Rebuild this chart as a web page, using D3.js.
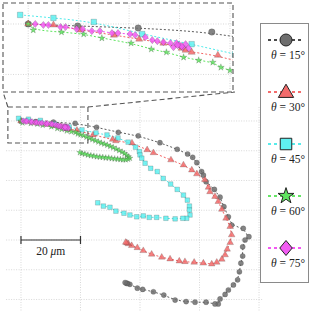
<!DOCTYPE html>
<html>
<head>
<meta charset="utf-8">
<script src="https://cdn.jsdelivr.net/npm/d3@7"></script>
<style>
  body { margin: 0; background: #fff; }
  svg { display: block; }
</style>
</head>
<body>
<script>
var width = 312,
    height = 315;

// trajectoires (µm), origine commune
const x15 = [0, 4.9, 10.9, 18.2, 25.4, 32.7, 39.4, 46.7, 52.5, 56.0, 57.7, 59.1, 60.7, 61.3, 62.2, 65.0, 66.9, 68.2, 69.7, 70.8, 74.7, 76.6, 75.3, 74.5, 74.5, 73.9, 73.4, 72.8, 71.4, 69.7, 68.6, 66.9, 66.3, 65.2, 62.2, 58.5, 55.5, 51.8, 48.0, 44.5, 40.9, 39.1, 36.6, 35.8, 35.5, 35.0];
const y15 = [0, -0.2, -0.4, -0.8, -2.1, -3.8, -5.0, -7.3, -9.5, -11.1, -12.2, -14.0, -17.0, -18.2, -20.4, -23.0, -25.6, -28.8, -32.2, -35.0, -36.1, -38.9, -40.0, -42.3, -45.4, -47.8, -50.7, -53.4, -55.1, -56.8, -58.3, -59.8, -61.5, -61.5, -60.9, -60.9, -60.7, -60.2, -58.5, -57.4, -56.6, -56.2, -54.9, -54.6, -54.6, -54.3];

const x30 = [0, 2.5, 5.2, 8.5, 11.0, 13.4, 15.2, 15.6, 16.2, 18.8, 24.2, 30.8, 31.9, 37.3, 42.4, 44.5, 50.4, 54.6, 57.4, 59.1, 61.8, 63.0, 63.5, 65.2, 66.3, 67.5, 68.9, 70.3, 70.8, 70.3, 69.3, 68.6, 67.5, 65.8, 64.1, 61.3, 58.2, 55.1, 53.2, 50.1, 47.3, 43.9, 41.1, 39.1, 37.2, 36.1, 35.6, 35.2];
const y30 = [0, -0.1, -0.6, -1.1, -1.5, -1.9, -2.4, -2.6, -2.8, -3.1, -4.7, -6.2, -6.7, -7.4, -9.7, -10.7, -13.1, -14.8, -16.5, -17.8, -19.8, -22.3, -23.8, -25.4, -27.1, -29.7, -32.7, -35.5, -38.3, -40.9, -43.1, -45.0, -46.5, -47.5, -48.1, -47.8, -47.5, -47.3, -47.1, -46.4, -45.8, -44.8, -43.6, -42.6, -41.9, -41.3, -41.0, -40.8];

const x45 = [-0.8, 2.5, 6.5, 11.3, 16.2, 20.5, 25.2, 28.9, 32.6, 36.0, 38.5, 39.8, 40.0, 40.6, 41.7, 43.6, 45.8, 47.8, 50.3, 52.5, 54.6, 55.9, 56.6, 56.6, 56.8, 55.7, 54.4, 51.8, 48.7, 45.6, 43.1, 41.1, 38.9, 36.6, 34.6, 31.9, 29.9, 27.7, 25.8];
const y45 = [0.9, 0.6, 0.2, -1.0, -2.0, -3.0, -4.0, -4.7, -5.7, -7.1, -8.8, -10.3, -11.4, -12.5, -14.2, -15.9, -17.0, -19.3, -21.2, -23.0, -24.9, -26.6, -28.6, -29.9, -31.6, -32.7, -32.7, -32.9, -32.7, -32.4, -32.4, -31.9, -32.2, -31.6, -31.0, -30.3, -29.0, -28.6, -27.5];

const x60 = [0, 0.5, 3.3, 5.5, 7.3, 10.2, 12.2, 13.7, 15.4, 16.9, 18.3, 19.1, 20, 21, 22, 23, 24, 25, 26, 27, 28, 29, 30, 31, 32, 33, 34, 34.8, 35.5, 36.1, 36.6, 36.0, 35.2, 34.3, 33.4, 32.5, 31.5, 30.5, 29.5, 28.5, 27.5, 26.5, 25.5, 24.5, 23.5, 22.5, 21.5, 20.5, 19.8];
const y60 = [0, -0.6, -0.8, -1.0, -1.4, -1.9, -2.5, -2.8, -3.3, -3.6, -3.8, -4.3, -4.6, -4.9, -5.4, -5.8, -6.2, -6.6, -7.0, -7.4, -7.7, -8.1, -8.5, -8.9, -9.4, -9.9, -10.4, -10.9, -11.5, -12.0, -12.5, -12.8, -13.0, -13.0, -12.9, -12.8, -12.7, -12.6, -12.4, -12.4, -12.2, -12.1, -12.0, -11.8, -11.6, -11.4, -11.1, -10.9, -10.6];

const x75 = [0.7, 1.5, 2.0, 3.2, 3.7, 4.8, 5.4, 6.3, 7.1, 8.3, 8.9, 10.1, 10.6, 11.6, 12.3, 12.8, 13.4, 14.1, 14.4, 14.7, 15.0, 15.3, 15.6, 15.9, 15.2, 14.8];
const y75 = [0, -0.1, -0.1, -0.3, -0.3, -0.5, -0.5, -0.7, -0.7, -0.9, -0.9, -1.0, -1.1, -1.3, -1.6, -1.7, -1.8, -1.9, -2.3, -1.9, -2.1, -2.3, -2.0, -2.4, -2.2, -2.1];

const angles = ["15", "30", "45", "60", "75"];

// grilles
const xTicks = [0, 20, 40, 60, 80];
const yTicks = [0, -10, -20, -30, -40, -50, -60];
const insetXTicks = [0, 5, 10, 15, 20];
const insetYTicks = [0, -5];

const series = [
  { xs: x15, ys: y15, shape: "circle",   fill: "#6e6e6e", line: "#333" },
  { xs: x30, ys: y30, shape: "triangle", fill: "#f26b6b", line: "#f03c3c" },
  { xs: x45, ys: y45, shape: "square",   fill: "#5ff0f0", line: "#22e5e5" },
  { xs: x60, ys: y60, shape: "star",     fill: "#5fe35f", line: "#33dd33" },
  { xs: x75, ys: y75, shape: "diamond",  fill: "#f25cf2", line: "#ee22ee" }
];

var svg = d3.select("body").append("svg")
    .attr("width", width)
    .attr("height", height);

svg.append("rect").attr("width", width).attr("height", height).attr("fill", "#fff");

// tracé principal
var x = d3.scaleLinear().domain([-5, 81.5]).range([6.1, 263.5]);
var y = d3.scaleLinear().domain([4.7, -64]).range([107, 311.4]);

// encart (zoom)
var xi = d3.scaleLinear().domain([-2.5, 20.3]).range([3, 233]);
var yi = d3.scaleLinear().domain([2.08, -6.74]).range([3, 92]);

function symbolPath(shape, s) {
  // s = taille approx. en pixels
  if (shape === "diamond") {
    var w = s * 0.5, h = s * 0.6;
    return `M0,${-h}L${w},0L0,${h}L${-w},0Z`;
  }
  var types = { circle: d3.symbolCircle, triangle: d3.symbolTriangle, square: d3.symbolSquare, star: d3.symbolStar };
  var area = { circle: 0.785, triangle: 0.45, square: 1, star: 0.33 }[shape] * s * s;
  return d3.symbol().type(types[shape]).size(area)();
}

function drawGrid(g, sx, sy, xs, ys) {
  var gr = g.append("g").attr("stroke", "#bdbdbd").attr("stroke-width", 0.6).attr("stroke-dasharray", "1,1.5");
  gr.selectAll(".gx").data(xs).join("line")
    .attr("x1", d => sx(d)).attr("x2", d => sx(d))
    .attr("y1", sy.range()[0]).attr("y2", sy.range()[1]);
  gr.selectAll(".gy").data(ys).join("line")
    .attr("y1", d => sy(d)).attr("y2", d => sy(d))
    .attr("x1", sx.range()[0]).attr("x2", sx.range()[1]);
}

function drawSeries(g, sx, sy, sizes) {
  series.forEach(function (s, k) {
    var pts = s.xs.map((v, i) => [v, s.ys[i]]);
    var line = d3.line().x(d => sx(d[0])).y(d => sy(d[1])).curve(d3.curveBasis);
    g.append("path")
      .attr("d", line(pts))
      .attr("fill", "none")
      .attr("stroke", s.line)
      .attr("stroke-width", 0.8)
      .attr("stroke-dasharray", "2,2");
  });
  series.forEach(function (s, k) {
    var pts = s.xs.map((v, i) => [v, s.ys[i]]);
    g.selectAll(null).data(pts).join("path")
      .attr("transform", d => `translate(${sx(d[0])},${sy(d[1])})`)
      .attr("d", symbolPath(s.shape, sizes[k]))
      .attr("fill", s.fill)
      .attr("fill-opacity", 0.85)
      .attr("stroke", "#333")
      .attr("stroke-opacity", 0.5)
      .attr("stroke-width", 0.4);
  });
}

// --- principal ---
var gMain = svg.append("g");
drawGrid(gMain, x, y, xTicks, yTicks);
drawSeries(gMain, x, y, [5.2, 6.5, 4.6, 6, 5.5]);

// barre d'échelle 20 µm
var sb = svg.append("g").attr("stroke", "#333").attr("stroke-width", 1.2);
sb.append("line").attr("x1", x(0)).attr("x2", x(20)).attr("y1", y(-40)).attr("y2", y(-40));
[0, 20].forEach(function (v) {
  sb.append("line").attr("x1", x(v)).attr("x2", x(v)).attr("y1", y(-40) - 4).attr("y2", y(-40) + 4);
});
var sbt = svg.append("text")
  .attr("x", x(10)).attr("y", y(-40) + 15)
  .attr("text-anchor", "middle")
  .attr("font-family", "Liberation Serif, serif")
  .attr("font-size", 11.5)
  .attr("fill", "#222");
sbt.append("tspan").text("20 ");
sbt.append("tspan").attr("font-style", "italic").text("μ");
sbt.append("tspan").text("m");

// rectangle de zoom + liens
var zoomX = [-4.4, 22.5], zoomY = [4.7, -7.4];
var dash = { stroke: "#555", "stroke-width": 1.1, "stroke-dasharray": "5,3", fill: "none" };
function styleDash(sel) { for (var k in dash) sel.attr(k, dash[k]); return sel; }

styleDash(svg.append("rect")
  .attr("x", x(zoomX[0])).attr("y", y(zoomY[0]))
  .attr("width", x(zoomX[1]) - x(zoomX[0]))
  .attr("height", y(zoomY[1]) - y(zoomY[0])));
styleDash(svg.append("line")
  .attr("x1", x(zoomX[0])).attr("y1", y(zoomY[0]))
  .attr("x2", xi.range()[0]).attr("y2", yi.range()[1]));
styleDash(svg.append("line")
  .attr("x1", x(zoomX[1])).attr("y1", y(zoomY[0]))
  .attr("x2", xi.range()[1] + 2).attr("y2", yi.range()[1]));

// --- encart ---
svg.append("defs").append("clipPath").attr("id", "clip-inset")
  .append("rect").attr("x", 3).attr("y", 3).attr("width", 230).attr("height", 89);
var gInset = svg.append("g");
gInset.append("rect").attr("x", 3).attr("y", 3).attr("width", 230).attr("height", 89).attr("fill", "#fff");
var gIn = gInset.append("g").attr("clip-path", "url(#clip-inset)");
drawGrid(gIn, xi, yi, insetXTicks, insetYTicks);
drawSeries(gIn, xi, yi, [6.5, 7, 5.5, 6.5, 6]);
styleDash(gInset.append("rect").attr("x", 3).attr("y", 3).attr("width", 230).attr("height", 89));

// --- légende ---
var leg = svg.append("g");
leg.append("rect").attr("x", 260.5).attr("y", 23.5).attr("width", 48).attr("height", 259)
  .attr("fill", "#fff").attr("stroke", "#8a8a8a").attr("stroke-width", 1);
var legSizes = [12, 15, 11.5, 15.5, 12.5];
series.forEach(function (s, i) {
  var cy = 40 + 52 * i;
  leg.append("line")
    .attr("x1", 268).attr("x2", 304).attr("y1", cy).attr("y2", cy)
    .attr("stroke", i === 0 ? "#111" : s.line)
    .attr("stroke-width", 1.3)
    .attr("stroke-dasharray", "3,3");
  leg.append("path")
    .attr("transform", `translate(286,${cy + (s.shape === "triangle" ? 1 : 0)})`)
    .attr("d", symbolPath(s.shape, legSizes[i]))
    .attr("fill", s.fill)
    .attr("stroke", "#222")
    .attr("stroke-width", 1);
  var t = leg.append("text")
    .attr("x", 288).attr("y", cy + 19)
    .attr("text-anchor", "middle")
    .attr("font-family", "Liberation Serif, serif")
    .attr("font-size", 11.5)
    .attr("fill", "#222");
  t.append("tspan").attr("font-style", "italic").text("θ");
  t.append("tspan").text(" = " + angles[i] + "°");
});
</script>
</body>
</html>
